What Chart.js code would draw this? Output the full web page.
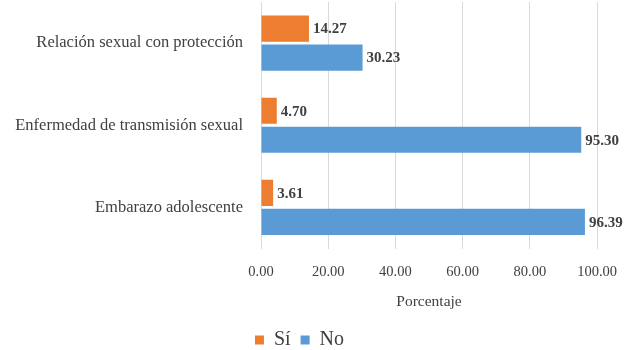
<!DOCTYPE html>
<html><head><meta charset="utf-8">
<script src="https://cdn.jsdelivr.net/npm/chart.js@4/dist/chart.umd.min.js"></script>
<style>html,body{margin:0;padding:0;background:#fff}#wrap{width:632px;height:350px}</style>
</head><body><div id="wrap"><canvas id="c" width="632" height="350"></canvas></div>
<script>
const categories = ["Relación sexual con protección", "Enfermedad de transmisión sexual", "Embarazo adolescente"];
const siValues = [14.27, 4.70, 3.61];
const noValues = [30.23, 95.30, 96.39];
const xTicks = [0, 20, 40, 60, 80, 100];
const seriesNames = ["Sí", "No"];
const FONT = "'Liberation Serif', 'DejaVu Serif', serif";

const labelPlugin = {
  id: 'vlabels',
  afterDatasetsDraw(chart) {
    const ctx = chart.ctx;
    ctx.save();
    ctx.font = "bold 15px " + FONT;
    ctx.fillStyle = "#404040";
    ctx.textBaseline = "middle";
    ctx.textAlign = "left";
    chart.data.datasets.forEach((ds, i) => {
      chart.getDatasetMeta(i).data.forEach((el, j) => {
        ctx.fillText(ds.data[j].toFixed(2), el.x + 4, el.y + 1);
      });
    });
    ctx.restore();
  }
};

new Chart(document.getElementById('c'), {
  type: 'bar',
  data: {
    labels: categories,
    datasets: [
      { label: seriesNames[0], data: siValues, backgroundColor: '#ED7D31', categoryPercentage: 0.707, barPercentage: 0.9 },
      { label: seriesNames[1], data: noValues, backgroundColor: '#5B9BD5', categoryPercentage: 0.707, barPercentage: 0.9 }
    ]
  },
  options: {
    indexAxis: 'y',
    responsive: false,
    animation: false,
    layout: { padding: { top: 2, right: 33, left: 0, bottom: -10 } },
    plugins: {
      tooltip: { enabled: false },
      legend: {
        position: 'bottom',
        labels: { boxWidth: 9, boxHeight: 9, padding: 10, color: '#404040', font: { family: FONT, size: 20 } }
      }
    },
    scales: {
      x: {
        min: 0, max: 100,
        afterBuildTicks(scale) { scale.ticks = xTicks.map(v => ({ value: v })); },
        grid: { color: '#d9d9d9', drawTicks: false, lineWidth: 1 },
        border: { display: false },
        ticks: { padding: 15, maxRotation: 0, minRotation: 0, autoSkip: false, color: '#404040', font: { family: FONT, size: 14.5 }, callback: v => Number(v).toFixed(2) },
        title: { display: true, text: 'Porcentaje', color: '#404040', font: { family: FONT, size: 15.5 }, padding: { top: 12, bottom: 9 } },
        afterFit(scale) { scale.height = 71.5; }
      },
      y: {
        grid: { display: false, drawTicks: false },
        border: { display: true, color: '#d9d9d9' },
        ticks: { padding: 18, color: '#404040', font: { family: FONT, size: 16.5 } },
        afterFit(scale) { scale.width = 261; scale.paddingTop = 0; scale.paddingBottom = 0; }
      }
    }
  },
  plugins: [labelPlugin]
});
</script></body></html>
